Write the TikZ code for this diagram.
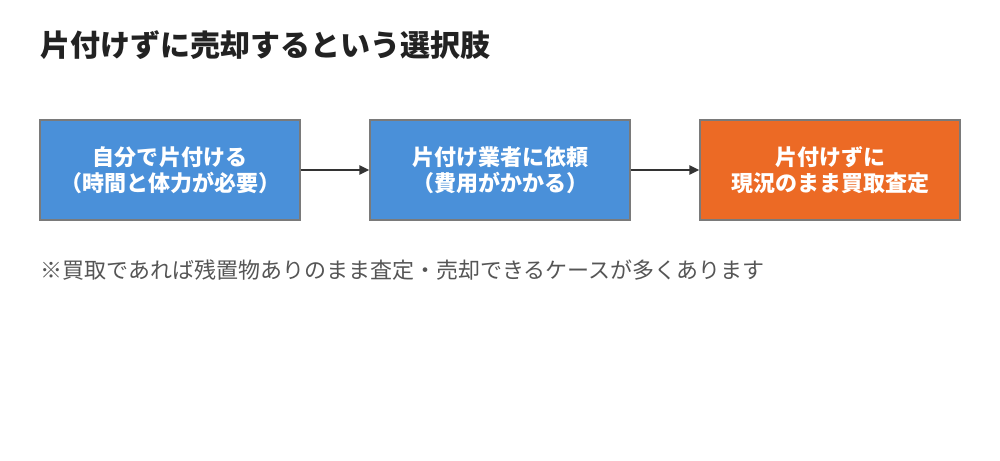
\documentclass[tikz,border=0pt]{standalone}
\usepackage{fontspec}
\newfontfamily\jpfont{Noto Sans CJK JP}
\usetikzlibrary{arrows.meta, positioning}
\definecolor{stepblue}{HTML}{4A90D9}
\definecolor{steporange}{HTML}{EC6A25}
\definecolor{edgegray}{HTML}{7A7A7A}
\definecolor{titleink}{HTML}{222222}
\definecolor{noteink}{HTML}{555555}
\definecolor{arrowink}{HTML}{333333}
\tikzset{
  stepbox/.style={draw=edgegray, line width=0.6pt, minimum width=130pt, minimum height=50pt,
    align=center, text=white, font=\jpfont\bfseries\fontsize{11}{13}\selectfont},
  flow/.style={draw=arrowink, line width=1.3pt, -{Triangle[length=5pt,width=4.5pt]}}
}
\begin{document}
\begin{tikzpicture}[x=0.5pt,y=-0.5pt]
\useasboundingbox (0,0) rectangle (1000,460);
\node[anchor=west, text=titleink, font=\jpfont\bfseries\fontsize{15}{18}\selectfont, inner sep=0pt] (title) at (40,45) {片付けずに売却するという選択肢};
\node[stepbox, fill=stepblue] (self) at (170,170) {自分で片付ける\\（時間と体力が必要）};
\node[stepbox, fill=stepblue] (agent) at (500,170) {片付け業者に依頼\\（費用がかかる）};
\node[stepbox, fill=steporange] (sell) at (830,170) {片付けずに\\現況のまま買取査定};
\draw[flow] (self) -- (agent);
\draw[flow] (agent) -- (sell);
\node[anchor=west, text=noteink, font=\jpfont\fontsize{11}{13}\selectfont, inner sep=0pt] (note) at (40,270) {※買取であれば残置物ありのまま査定・売却できるケースが多くあります};
\end{tikzpicture}
\end{document}
